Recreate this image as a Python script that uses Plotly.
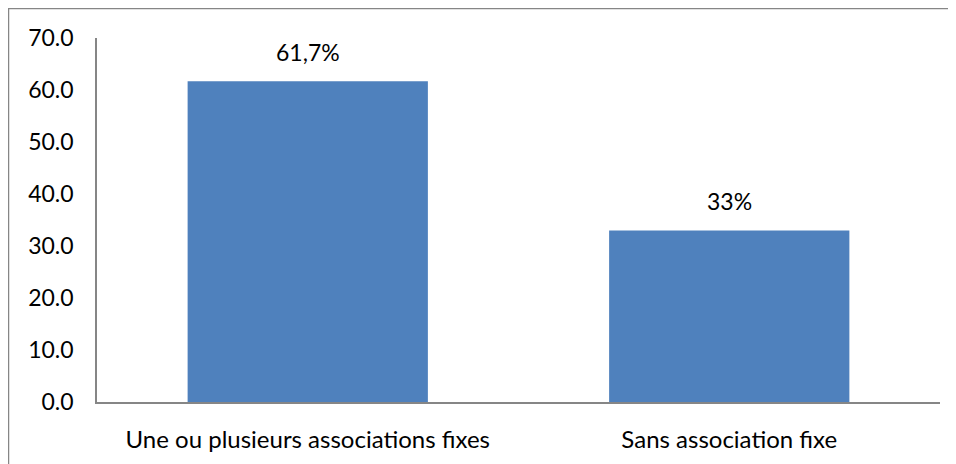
import plotly.graph_objects as go

categories = ["Une ou plusieurs associations fixes", "Sans association fixe"]
values = [61.7, 33.0]
labels = ["61,7%", "33%"]

W, H = 956, 464
# page renders with an 8px body offset
L, R, T, B = 89, 24, 30, 70
pw, ph = W - L - R, H - T - B

fig = go.Figure(go.Bar(
    x=categories, y=values, marker=dict(color="#4F81BD", line=dict(width=0)),
    width=0.57, hoverinfo="skip",
))

for c, v, t in zip(categories, values, labels):
    fig.add_annotation(x=c, y=v, text=t, showarrow=False, yanchor="bottom",
                       yshift=13, font=dict(size=23, color="#000000"))

fig.add_shape(type="rect", xref="paper", yref="paper",
              x0=(0.5 - L) / pw, x1=(W + 40 - L) / pw,
              y0=-(H + 40 - T - ph) / ph, y1=1 + (T - 0.5) / ph,
              line=dict(color="#868686", width=1.5), fillcolor="rgba(0,0,0,0)")

fig.update_layout(
    width=W, height=H, margin=dict(l=L, r=R, t=T, b=B),
    paper_bgcolor="white", plot_bgcolor="white", showlegend=False,
    font=dict(family="Lato, Calibri, sans-serif", size=22, color="#000000"),
    bargap=0.43,
    xaxis=dict(showline=True, linecolor="#868686", linewidth=1.5, ticks="",
               showgrid=False, tickfont=dict(size=24), ticklabelstandoff=15),
    yaxis=dict(range=[0, 70], dtick=10, tickformat=".1f", showline=True,
               linecolor="#868686", linewidth=1.5, ticks="", showgrid=False,
               zeroline=False, tickfont=dict(size=23), ticklabelstandoff=17),
)

fig.write_html("out.html")
